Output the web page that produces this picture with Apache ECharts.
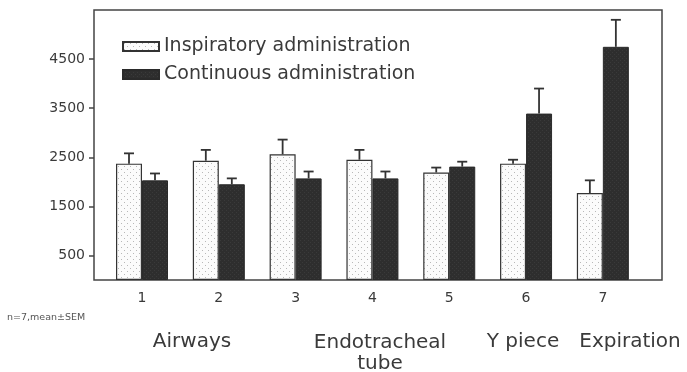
<!DOCTYPE html>
<html>
<head>
<meta charset="utf-8">
<script src="https://cdn.jsdelivr.net/npm/echarts@6/dist/echarts.min.js"></script>
<style>
html,body{margin:0;padding:0;background:#fff;}
#chart{width:687px;height:372px;}
</style>
</head>
<body>
<div id="chart"></div>
<script>
// ---- data ----
var categories = [1, 2, 3, 4, 5, 6, 7];
var inspMean = [2370, 2430, 2560, 2450, 2190, 2370, 1770];
var inspSem  = [210, 220, 300, 200, 100, 80, 260];
var contMean = [2030, 1950, 2070, 2070, 2310, 3390, 4750];
var contSem  = [140, 120, 140, 140, 100, 510, 550];
var yTicks = [500, 1500, 2500, 3500, 4500];
var seriesNames = ['Inspiratory administration', 'Continuous administration'];
var groupLabels = ['Airways', 'Endotracheal\ntube', 'Y piece', 'Expiration'];
var footnote = 'n=7,mean\u00b1SEM';

// ---- patterns ----
function dotPattern() {
  var c = document.createElement('canvas');
  c.width = 6; c.height = 6;
  var g = c.getContext('2d');
  g.fillStyle = '#fbfbfb'; g.fillRect(0, 0, 6, 6);
  g.fillStyle = '#b8b8b8';
  g.fillRect(1, 1, 1, 1);
  g.fillRect(4, 4, 1, 1);
  return c;
}
function darkPattern() {
  var c = document.createElement('canvas');
  c.width = 4; c.height = 4;
  var g = c.getContext('2d');
  g.fillStyle = '#2e2e2e'; g.fillRect(0, 0, 4, 4);
  g.fillStyle = '#3a3a3a';
  g.fillRect(0, 0, 1, 1); g.fillRect(2, 2, 1, 1);
  return c;
}

var FONT = 'DejaVu Sans';
var TXT = '#3a3a3a';
var BAR_W = 26;

var chart = echarts.init(document.getElementById('chart'), null, {renderer: 'canvas'});

var inspData = categories.map(function (c, i) { return [c, inspMean[i]]; });
var contData = categories.map(function (c, i) { return [c, contMean[i]]; });
var errData = [];
categories.forEach(function (c, i) {
  errData.push([c, inspMean[i], inspSem[i], -1]);
  errData.push([c, contMean[i], contSem[i], 1]);
});

var option = {
  backgroundColor: '#fff',
  animation: false,
  grid: {
    left: 94, right: 25, top: 10, bottom: 92,
    show: true, borderColor: '#444', borderWidth: 1.5, backgroundColor: 'transparent'
  },
  legend: {
    orient: 'vertical',
    left: 117, top: 32,
    icon: 'rect',
    itemWidth: 36, itemHeight: 9, itemGap: 9,
    data: seriesNames,
    textStyle: {fontFamily: FONT, fontSize: 19, color: TXT}
  },
  xAxis: {
    type: 'value',
    min: 0.375, max: 7.77,
    axisLine: {show: false},
    axisTick: {show: false},
    splitLine: {show: false},
    axisLabel: {
      customValues: categories,
      margin: 11,
      fontFamily: FONT, fontSize: 14, color: TXT,
      formatter: function (v) { return String(v); }
    }
  },
  yAxis: {
    type: 'value',
    min: 0, max: 5500,
    axisLine: {show: false},
    splitLine: {show: false},
    axisTick: {show: true, customValues: yTicks, inside: false, length: 5, lineStyle: {color: '#444', width: 1.5}},
    axisLabel: {customValues: yTicks, margin: 9, fontFamily: FONT, fontSize: 14, color: TXT,
      formatter: function (v) { return String(v); }}
  },
  series: [
    {
      name: seriesNames[0], type: 'bar', barWidth: BAR_W, barGap: '0%',
      data: inspData,
      itemStyle: {color: {image: dotPattern(), repeat: 'repeat'}, borderColor: '#333', borderWidth: 1.2}
    },
    {
      name: seriesNames[1], type: 'bar', barWidth: BAR_W, barGap: '0%',
      data: contData,
      itemStyle: {color: {image: darkPattern(), repeat: 'repeat'}, borderColor: '#2a2a2a', borderWidth: 1}
    },
    {
      type: 'custom', name: 'err',
      data: errData,
      encode: {x: 0, y: 1},
      z: 1,
      renderItem: function (params, api) {
        var x = api.value(0), m = api.value(1), s = api.value(2), side = api.value(3);
        var p0 = api.coord([x, m]);
        var p1 = api.coord([x, m + s]);
        var cx = p0[0] + side * BAR_W / 2;
        var st = {stroke: '#333', lineWidth: 1.8};
        return {
          type: 'group',
          children: [
            {type: 'line', shape: {x1: cx, y1: p0[1], x2: cx, y2: p1[1]}, style: st},
            {type: 'line', shape: {x1: cx - 5, y1: p1[1], x2: cx + 5, y2: p1[1]}, style: st}
          ]
        };
      }
    }
  ],
  graphic: [
    {type: 'text', left: 7, top: 313, style: {text: footnote, font: '9.5px "DejaVu Sans"', fill: '#555'}},
    {type: 'text', x: 192, y: 342, style: {text: groupLabels[0], font: '20px "DejaVu Sans"', fill: TXT, align: 'center', verticalAlign: 'middle'}},
    {type: 'text', x: 380, y: 332, style: {text: groupLabels[1], font: '20px "DejaVu Sans"', fill: TXT, align: 'center', verticalAlign: 'top', lineHeight: 21}},
    {type: 'text', x: 523, y: 342, style: {text: groupLabels[2], font: '20px "DejaVu Sans"', fill: TXT, align: 'center', verticalAlign: 'middle'}},
    {type: 'text', x: 630, y: 342, style: {text: groupLabels[3], font: '20px "DejaVu Sans"', fill: TXT, align: 'center', verticalAlign: 'middle'}}
  ]
};
chart.setOption(option);
</script>
</body>
</html>
